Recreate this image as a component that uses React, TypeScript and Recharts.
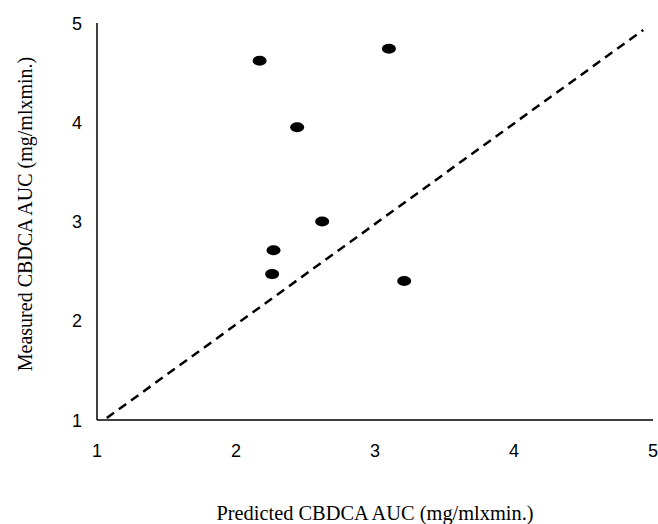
import { ScatterChart, Scatter, XAxis, YAxis, ReferenceLine, Label } from "recharts";

const predicted = [2.17, 3.1, 2.44, 2.62, 2.27, 2.26, 3.21];
const measured = [4.62, 4.74, 3.95, 3.0, 2.71, 2.47, 2.4];
const axisTicks = [1, 2, 3, 4, 5];
const identityLine = [
	{ x: 1.07, y: 1.02 },
	{ x: 4.93, y: 4.93 },
];

const points = predicted.map((x, i) => ({ x, y: measured[i] }));

const tickFont = "'Liberation Sans', Arial, sans-serif";
const titleFont = "'Liberation Serif', 'Times New Roman', serif";

const Dot = (props: any) => <ellipse cx={props.cx} cy={props.cy} rx={7} ry={5} fill="#000" />;

const Tick = (props: any) => {
	const { x, y, payload, textAnchor, dy } = props;
	return (
		<text x={x} y={y} dy={dy} textAnchor={textAnchor} fill="#000" fontSize={18} fontFamily={tickFont}>
			{payload.value}
		</text>
	);
};

export default function App() {
	return (
		<div style={{ position: "absolute", left: 0, top: 0, background: "#fff" }}>
			<ScatterChart width={658} height={524} margin={{ top: 23, right: 5, bottom: 0, left: 0 }}>
				<XAxis
					type="number"
					dataKey="x"
					domain={[1, 5]}
					ticks={axisTicks}
					height={104}
					tickLine={false}
					tickSize={0}
					tickMargin={24}
					tick={(p: any) => <Tick {...p} dy={13} />}
					axisLine={{ stroke: "#000", strokeWidth: 1.5 }}
				>
					<Label
						value="Predicted CBDCA AUC (mg/mlxmin.)"
						position="insideBottom"
						offset={4}
						style={{ fill: "#000", fontSize: 20.4, fontFamily: titleFont }}
					/>
				</XAxis>
				<YAxis
					type="number"
					dataKey="y"
					domain={[1, 5]}
					ticks={axisTicks}
					width={97}
					tickLine={false}
					tickSize={0}
					tickMargin={15}
					tick={(p: any) => <Tick {...p} dy={6.5} />}
					axisLine={{ stroke: "#000", strokeWidth: 1.5 }}
				>
					<Label
						content={() => (
							<text
								x={32}
								y={214}
								transform="rotate(-90 32 214)"
								textAnchor="middle"
								fill="#000"
								fontSize={20}
								fontFamily={titleFont}
							>
								Measured CBDCA AUC (mg/mlxmin.)
							</text>
						)}
					/>
				</YAxis>
				<ReferenceLine segment={identityLine} stroke="#000" strokeWidth={2.5} strokeDasharray="9 6" ifOverflow="visible" />
				<Scatter data={points} shape={Dot} isAnimationActive={false} />
			</ScatterChart>
		</div>
	);
}
